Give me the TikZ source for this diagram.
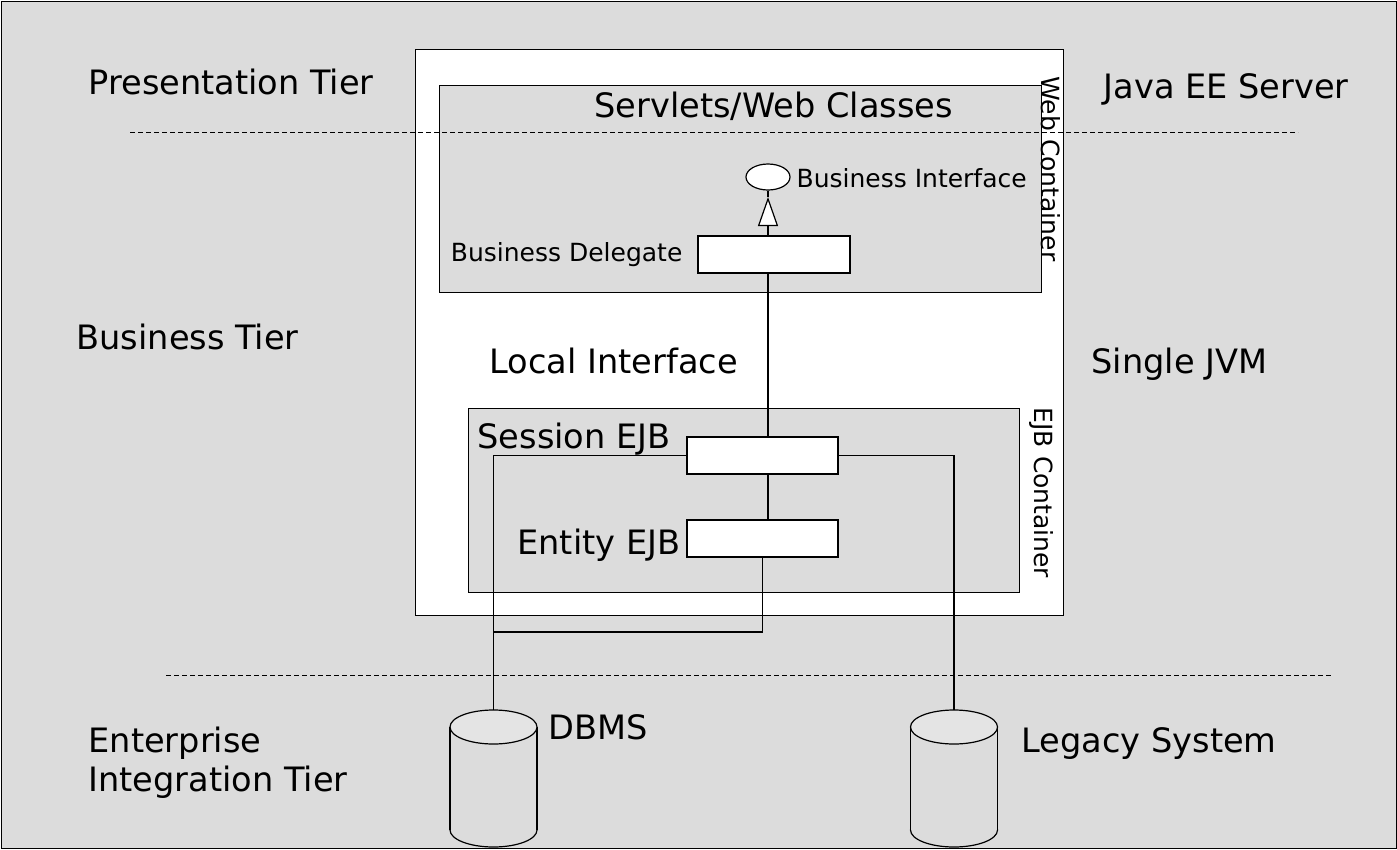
\documentclass[tikz,border=0pt]{standalone}
\usepackage{fontspec}
\setmainfont{DejaVu Sans}
\usetikzlibrary{arrows.meta,shapes.geometric}
\definecolor{bg}{HTML}{DCDCDC}
\definecolor{cyltop}{HTML}{E4E4E4}
\begin{document}
\begin{tikzpicture}[x=1pt,y=-1pt,line width=1.2pt,
  big/.style={font=\fontsize{33.6}{39}\selectfont,inner sep=0,anchor=base west,align=left},
  small/.style={font=\fontsize{25}{30}\selectfont,inner sep=0,anchor=base west},
  comp/.style={draw,fill=white,minimum width=151pt,minimum height=37pt,inner sep=0},
  container/.style={draw,anchor=north west,inner sep=0},
  tierline/.style={line width=1pt,dash pattern=on 5pt off 3pt}]
\useasboundingbox (0,0) rectangle (1397,849);
% outer background
\node[container,fill=bg,minimum width=1395pt,minimum height=847pt] (outer) at (1,1) {};
% server box (white)
\node[container,fill=white,minimum width=648pt,minimum height=566pt] (server) at (415,49) {};
% web container
\node[container,fill=bg,minimum width=602pt,minimum height=207pt] (web) at (439,85) {};
% EJB container
\node[container,fill=bg,minimum width=551pt,minimum height=184pt] (ejb) at (468,408) {};
% components
\node[comp,minimum width=152pt] (deleg) at (774,254.5) {};
\node[comp] (sess) at (762.5,455.5) {};
\node[comp] (ent) at (762.5,538.5) {};
\node[draw,ellipse,fill=white,minimum width=44pt,minimum height=26pt,inner sep=0] (iface) at (768,177) {};
\coordinate (tip) at (768,197);
% cylinders
\coordinate (dbms) at (493.5,710);
\coordinate (legacy) at (954,710);
\foreach \cx in {493.5,954}{
  \draw[fill=bg] (\cx,830) ellipse [x radius=43.5,y radius=17];
  \fill[bg] (\cx-43.5,727) rectangle (\cx+43.5,830);
  \draw (\cx-43.5,727) -- (\cx-43.5,830) (\cx+43.5,727) -- (\cx+43.5,830);
  \draw[fill=cyltop] (\cx,727) ellipse [x radius=43.5,y radius=17];
}
% tier lines
\coordinate (t1a) at (130,132); \coordinate (t1b) at (1298,132);
\coordinate (t2a) at (166,675); \coordinate (t2b) at (1333,675);
\draw[tierline] (t1a) -- (t1b);
\draw[tierline] (t2a) -- (t2b);
% connectors
\draw (iface.south) -- (tip);
\draw[-{Triangle[length=29pt,width=20pt,fill=white]}] (tip |- deleg.north) -- (tip);
\draw (tip |- deleg.south) -- (tip |- sess.north);
\draw (tip |- sess.south) -- (tip |- ent.north);
\draw (sess.west) -| (dbms);
\draw (sess.east) -| (legacy);
\coordinate (join) at (493.5,632);
\draw (ent.south) |- (join);
% labels
\node[big] (lpres) at (88,94) {Presentation Tier};
\node[big] (ljava) at (1103,98) {Java EE Server};
\node[big] (lserv) at (594,117) {Servlets/Web Classes};
\node[small,rotate=-90,anchor=center] (lweb) at (1051,169) {Web Container};
\node[small] (liface) at (796,187) {Business Interface};
\node[small,anchor=base east] (ldeleg) at (683,261) {Business Delegate};
\node[big] (lbus) at (76,349) {Business Tier};
\node[big] (llocal) at (489,373) {Local Interface};
\node[big] (ljvm) at (1091,373) {Single JVM};
\node[big] (lsess) at (477,448) {Session EJB};
\node[big,anchor=base east] (lent) at (681,554) {Entity EJB};
\node[small,rotate=-90,anchor=center] (lejb) at (1041,493) {EJB Container};
\node[big] (ldbms) at (548,739) {DBMS};
\node[big] (lleg) at (1021,752) {Legacy System};
\node[big] (lent2) at (88,791) {Enterprise\\Integration Tier};
\end{tikzpicture}
\end{document}
